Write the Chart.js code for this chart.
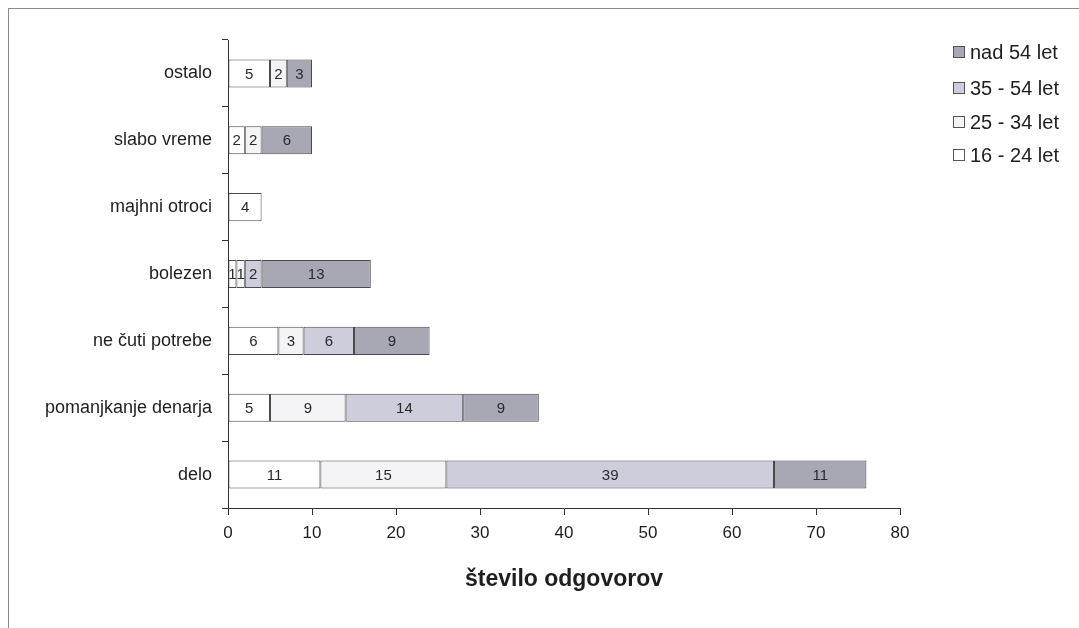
<!DOCTYPE html>
<html>
<head>
<meta charset="utf-8">
<script src="https://cdn.jsdelivr.net/npm/chart.js@4/dist/chart.umd.min.js"></script>
<style>
  html, body { margin: 0; padding: 0; background: #fff; }
  #frame {
    position: absolute; left: 8px; top: 8px; width: 1100px; height: 700px;
    border-left: 1px solid #8a8a8a; border-top: 1px solid #8a8a8a;
  }
  #wrap { position: absolute; left: 0; top: 0; width: 1079px; height: 628px; }
</style>
</head>
<body>
<div id="frame"></div>
<div id="wrap"><canvas id="chart" width="1079" height="628"></canvas></div>
<script>
// categories, top to bottom
const categories = ['ostalo', 'slabo vreme', 'majhni otroci', 'bolezen', 'ne čuti potrebe', 'pomanjkanje denarja', 'delo'];

// answers per age group
const age16to24 = [5, 2, 4, 1, 6, 5, 11];
const age25to34 = [2, 2, 0, 1, 3, 9, 15];
const age35to54 = [0, 0, 0, 2, 6, 14, 39];
const ageOver54 = [3, 6, 0, 13, 9, 9, 11];

const seriesLabels = ['16 - 24 let', '25 - 34 let', '35 - 54 let', 'nad 54 let'];
const xTicks = [0, 10, 20, 30, 40, 50, 60, 70, 80];

const fillColors = ['#ffffff', '#f4f4f6', '#cdcddb', '#a8a8b5'];
const plainFont = "'Liberation Sans', Arial, sans-serif";

// numbers inside the bar segments
const segmentLabels = {
    id: 'segmentLabels',
    afterDatasetsDraw(chart) {
        const ctx = chart.ctx;
        ctx.save();
        ctx.font = '15px ' + plainFont;
        ctx.fillStyle = '#2a2a2a';
        ctx.textAlign = 'center';
        ctx.textBaseline = 'middle';
        chart.data.datasets.forEach((ds, i) => {
            chart.getDatasetMeta(i).data.forEach((bar, j) => {
                const v = ds.data[j];
                if (!v) return;
                ctx.fillText(String(v), (bar.x + bar.base) / 2, bar.y + 1);
            });
        });
        ctx.restore();
    }
};

// legend in the top right corner, oldest group first
const sideLegend = {
    id: 'sideLegend',
    afterDraw(chart) {
        const ctx = chart.ctx;
        const items = chart.data.datasets.slice().reverse();
        const rows = [52, 88, 122, 155];
        ctx.save();
        ctx.font = '20px ' + plainFont;
        ctx.textBaseline = 'middle';
        items.forEach((ds, k) => {
            const y = rows[k];
            ctx.fillStyle = ds.backgroundColor;
            ctx.fillRect(953, y - 6, 12, 12);
            ctx.strokeStyle = '#555';
            ctx.lineWidth = 1;
            ctx.strokeRect(953.5, y - 5.5, 11, 11);
            ctx.fillStyle = '#1e1e1e';
            ctx.fillText(ds.label, 970, y + 1);
        });
        ctx.restore();
    }
};

const groups = [age16to24, age25to34, age35to54, ageOver54];

const ctx = document.getElementById('chart').getContext('2d');
new Chart(ctx, {
    type: 'bar',
    data: {
        labels: categories,
        datasets: groups.map((g, i) => ({
            label: seriesLabels[i],
            data: g,
            backgroundColor: fillColors[i],
            borderColor: '#4a4a4a',
            borderWidth: 1,
            borderSkipped: false,
            barPercentage: 0.42,
            categoryPercentage: 1
        }))
    },
    options: {
        indexAxis: 'y',
        responsive: false,
        animation: false,
        layout: { padding: { top: 40, right: 179, bottom: 0, left: 0 } },
        plugins: {
            legend: { display: false },
            tooltip: { enabled: false }
        },
        scales: {
            x: {
                stacked: true,
                min: 0,
                max: 80,
                afterBuildTicks(scale) {
                    scale.ticks = xTicks.map(v => ({ value: v }));
                },
                border: { display: true, color: '#333', width: 1 },
                grid: { drawOnChartArea: false, tickLength: 7, color: '#333' },
                ticks: {
                    padding: 8,
                    color: '#1e1e1e',
                    font: { family: plainFont, size: 17 }
                },
                title: {
                    display: true,
                    text: 'število odgovorov',
                    color: '#1e1e1e',
                    font: { family: plainFont, size: 23, weight: 'bold' },
                    padding: { top: 0, bottom: 35 }
                },
                afterFit(scale) { scale.height = 120; }
            },
            y: {
                stacked: true,
                border: { display: true, color: '#333', width: 1 },
                grid: { drawOnChartArea: false, tickLength: 6, color: '#333', offset: true },
                ticks: {
                    padding: 10,
                    color: '#1e1e1e',
                    font: { family: plainFont, size: 18 }
                },
                afterFit(scale) { scale.width = 228; }
            }
        }
    },
    plugins: [segmentLabels, sideLegend]
});
</script>
</body>
</html>
